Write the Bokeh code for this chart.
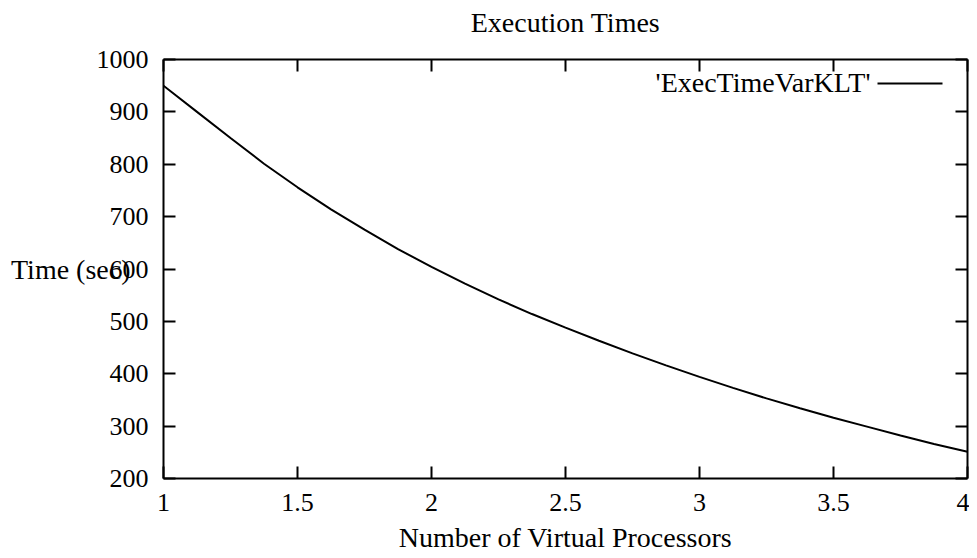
from bokeh.plotting import figure
from bokeh.models import LinearAxis, FixedTicker, Label, Range1d, CustomJSTickFormatter
from bokeh.embed import file_html
from bokeh.resources import INLINE

# ---- data ----
processors = [1.0, 1.125, 1.25, 1.375, 1.5, 1.625, 1.75, 1.875, 2.0, 2.125, 2.25, 2.375,
              2.5, 2.625, 2.75, 2.875, 3.0, 3.125, 3.25, 3.375, 3.5, 3.625, 3.75, 3.875, 4.0]
exec_time = [950, 900, 850, 801, 756, 714, 675, 638, 604, 572, 542, 514,
             488, 463, 439, 416, 394, 373, 353, 334, 316, 299, 282, 266, 251]
x_ticks = [1, 1.5, 2, 2.5, 3, 3.5, 4]
y_ticks = [200, 300, 400, 500, 600, 700, 800, 900, 1000]
series_name = "'ExecTimeVarKLT'"
title_text = "Execution Times"
x_label = "Number of Virtual Processors"
y_label = "Time (sec)"

FONT = "Liberation Serif"
TICK_FS = "26px"
FS = "28px"
W, H = 969, 556
L, R, T, B = 163, 2, 59, 78

p = figure(width=W, height=H, output_backend="svg", toolbar_location=None, title=None,
           x_range=Range1d(1, 4), y_range=Range1d(200, 1000),
           min_border_left=L, min_border_right=R, min_border_top=T, min_border_bottom=B,
           x_axis_location=None, y_axis_location=None)
p.background_fill_color = "white"
p.border_fill_color = "white"
p.outline_line_color = None
p.xgrid.visible = False
p.ygrid.visible = False

def style_axis(ax, labels=True):
    ax.axis_line_width = 2
    ax.axis_line_color = "black"
    ax.major_tick_line_width = 2
    ax.major_tick_line_color = "black"
    ax.major_tick_in = 12
    ax.major_tick_out = 0
    ax.minor_tick_line_color = None
    ax.major_label_text_font = FONT
    ax.major_label_text_color = "black"
    ax.major_label_text_font_size = TICK_FS
    ax.axis_label_text_font = FONT
    ax.axis_label_text_font_size = FS
    ax.axis_label_text_font_style = "normal"
    ax.axis_label_text_color = "black"
    if not labels:
        ax.formatter = CustomJSTickFormatter(code="return ''")
        ax.major_label_standoff = 0

xb = LinearAxis(ticker=FixedTicker(ticks=x_ticks), axis_label=x_label)
style_axis(xb)
xb.major_label_standoff = 15
xb.axis_label_standoff = 8
p.add_layout(xb, "below")

yl = LinearAxis(ticker=FixedTicker(ticks=y_ticks), axis_label=y_label)
style_axis(yl)
yl.major_label_standoff = 15
yl.axis_label_orientation = "horizontal"
yl.axis_label_standoff = -37
p.add_layout(yl, "left")

yr = LinearAxis(ticker=FixedTicker(ticks=y_ticks))
style_axis(yr, labels=False)
p.add_layout(yr, "right")

# top mirror axis carries the chart title as its label
xt = LinearAxis(ticker=FixedTicker(ticks=x_ticks), axis_label=title_text)
style_axis(xt, labels=False)
xt.axis_label_standoff = 22
p.add_layout(xt, "above")

p.line(processors, exec_time, line_color="black", line_width=2)

# key: text followed by a line sample, top right inside the frame
p.add_layout(Label(x=4, y=1000, x_offset=-97, y_offset=-23, text=series_name,
                   text_font=FONT, text_font_size=FS, text_baseline="middle",
                   text_align="right", text_color="black"))
fw = W - L - R
fh = H - T - B
px_x = (4 - 1) / fw
px_y = (1000 - 200) / fh
kx0 = 4 - 90 * px_x
kx1 = 4 - 25 * px_x
ky = 1000 - 24 * px_y
p.line([kx0, kx1], [ky, ky], line_color="black", line_width=2)

open("out.html", "w").write(file_html(p, INLINE))
